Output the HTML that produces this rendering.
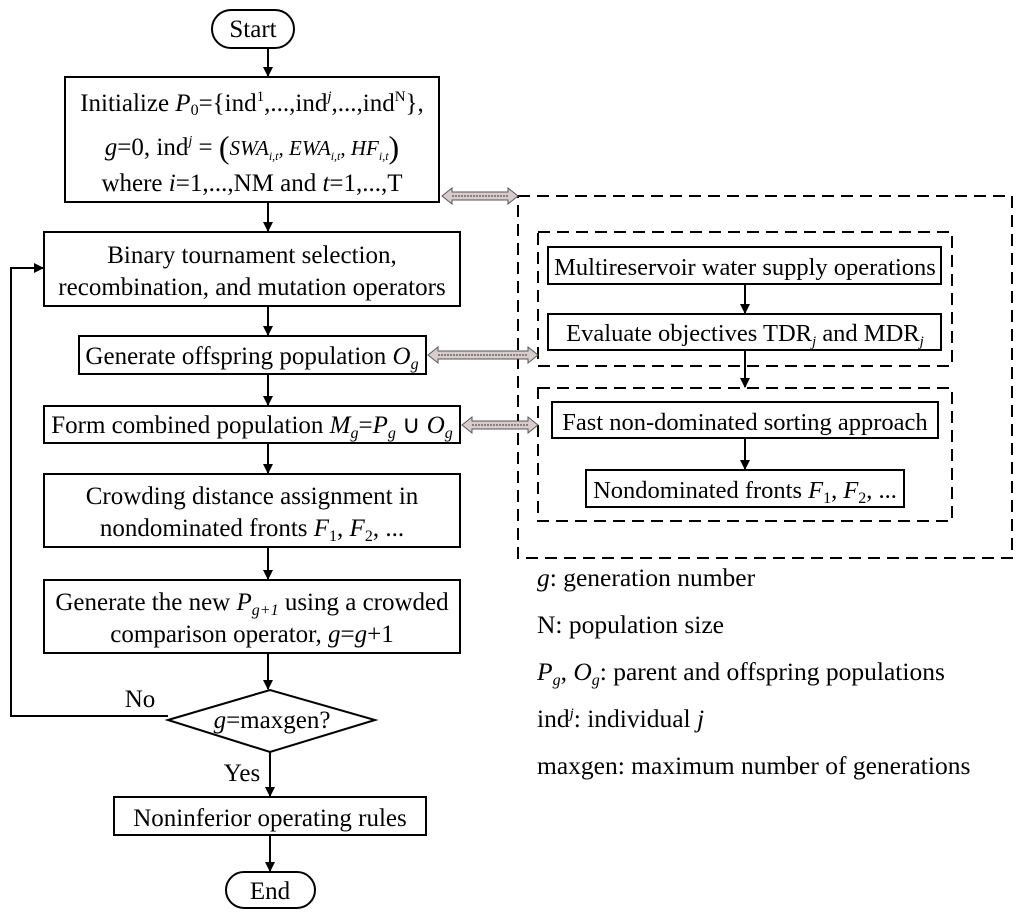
<!DOCTYPE html>
<html><head><meta charset="utf-8"><style>
html,body{margin:0;padding:0;background:#fff}
svg{display:block}
text{font-family:"Liberation Serif",serif;fill:#000}
.t{font-size:25px;text-anchor:middle}
.s{font-size:24.5px;text-anchor:middle}
.l{font-size:25.5px}
</style></head><body>
<svg width="1024" height="916" viewBox="0 0 1024 916" xmlns="http://www.w3.org/2000/svg">
<defs>
<marker id="a" markerWidth="10" markerHeight="10" refX="9" refY="5" orient="auto" markerUnits="userSpaceOnUse">
<path d="M0,0 L10,5 L0,10 z" fill="#000"/></marker>
</defs>
<g stroke="#000" stroke-width="2" fill="none">
<rect x="212" y="10" width="82" height="38" rx="19"/>
<rect x="65" y="77" width="374" height="125"/>
<rect x="44" y="232" width="416" height="74"/>
<rect x="79" y="336" width="347" height="38"/>
<rect x="44" y="406" width="416" height="37"/>
<rect x="44" y="474" width="416" height="73"/>
<rect x="44" y="580" width="416" height="73"/>
<path d="M168,720 L270,690 L375,720 L270,752 Z"/>
<rect x="114" y="797" width="312" height="38"/>
<rect x="226" y="872" width="89" height="36" rx="18"/>
<line x1="268" y1="48" x2="268" y2="76" marker-end="url(#a)"/>
<line x1="268" y1="202" x2="268" y2="231" marker-end="url(#a)"/>
<line x1="268" y1="306" x2="268" y2="335" marker-end="url(#a)"/>
<line x1="268" y1="374" x2="268" y2="405" marker-end="url(#a)"/>
<line x1="268" y1="443" x2="268" y2="473" marker-end="url(#a)"/>
<line x1="268" y1="547" x2="268" y2="579" marker-end="url(#a)"/>
<line x1="268" y1="653" x2="268" y2="689" marker-end="url(#a)"/>
<line x1="270" y1="752" x2="270" y2="796" marker-end="url(#a)"/>
<line x1="270" y1="835" x2="270" y2="871" marker-end="url(#a)"/>
<polyline points="168,716 11,716 11,268 43,268" marker-end="url(#a)"/>
<g stroke-dasharray="12,7">
<rect x="518" y="196" width="494" height="362"/>
<rect x="538" y="232" width="414" height="134"/>
<rect x="538" y="388" width="414" height="133"/>
</g>
<rect x="548" y="247" width="393" height="37"/>
<rect x="548" y="314" width="393" height="36"/>
<rect x="552" y="402" width="386" height="36"/>
<rect x="586" y="470" width="318" height="37"/>
<line x1="745" y1="284" x2="745" y2="313" marker-end="url(#a)"/>
<line x1="745" y1="350" x2="745" y2="387" marker-end="url(#a)"/>
<line x1="745" y1="438" x2="745" y2="469" marker-end="url(#a)"/>
</g>
<g fill="#d8cccc" stroke="#555" stroke-width="1">
<path d="M442,196 L452,188 L452,192 L508,192 L508,188 L518,196 L508,204 L508,200 L452,200 L452,204 Z"/>
<path d="M428,355 L438,347 L438,351 L528,351 L528,347 L538,355 L528,363 L528,359 L438,359 L438,363 Z"/>
<path d="M462,425 L472,417 L472,421 L528,421 L528,417 L538,425 L528,433 L528,429 L472,429 L472,433 Z"/>
</g>
<g stroke="#333" stroke-width="1" stroke-dasharray="2,1">
<line x1="452" y1="196" x2="508" y2="196"/>
<line x1="438" y1="355" x2="528" y2="355"/>
<line x1="472" y1="425" x2="528" y2="425"/>
</g>
<text class="t" x="253" y="37">Start</text>
<text class="t" x="252" y="111">Initialize <tspan font-style="italic">P</tspan><tspan font-size="16" dy="4">0</tspan><tspan dy="-4">={ind</tspan><tspan font-size="15" dy="-10">1</tspan><tspan dy="10">,...,ind</tspan><tspan font-size="15" dy="-10" font-style="italic">j</tspan><tspan dy="10">,...,ind</tspan><tspan font-size="15" dy="-10">N</tspan><tspan dy="10">},</tspan></text>
<text class="t" x="252" y="155"><tspan font-style="italic">g</tspan>=0, ind<tspan font-size="14" dy="-10" font-style="italic">j</tspan><tspan dy="10"> = </tspan><tspan font-size="32" dy="3">(</tspan><tspan font-style="italic" font-size="21" dy="-3">SWA</tspan><tspan font-size="12" font-style="italic" dy="5">i,t</tspan><tspan dy="-5" font-size="21">, </tspan><tspan font-style="italic" font-size="21">EWA</tspan><tspan font-size="12" font-style="italic" dy="5">i,t</tspan><tspan dy="-5" font-size="21">, </tspan><tspan font-style="italic" font-size="21">HF</tspan><tspan font-size="12" font-style="italic" dy="5">i,t</tspan><tspan dy="-2" font-size="32">)</tspan></text>
<text class="t" x="252" y="191">where <tspan font-style="italic">i</tspan>=1,...,NM and <tspan font-style="italic">t</tspan>=1,...,T</text>
<text class="t" x="252" y="263">Binary tournament selection,</text>
<text class="t" x="252" y="295">recombination, and mutation operators</text>
<text class="t" x="252" y="364">Generate offspring population <tspan font-style="italic">O</tspan><tspan font-style="italic" font-size="16" dy="5">g</tspan></text>
<text class="t" x="252" y="433">Form combined population <tspan font-style="italic">M</tspan><tspan font-style="italic" font-size="16" dy="5">g</tspan><tspan dy="-5">=</tspan><tspan font-style="italic">P</tspan><tspan font-style="italic" font-size="16" dy="5">g</tspan><tspan dy="-5"> ∪ </tspan><tspan font-style="italic">O</tspan><tspan font-style="italic" font-size="16" dy="5">g</tspan></text>
<text class="t" x="252" y="504">Crowding distance assignment in</text>
<text class="t" x="252" y="536">nondominated fronts <tspan font-style="italic">F</tspan><tspan font-size="16" dy="5">1</tspan><tspan dy="-5">, </tspan><tspan font-style="italic">F</tspan><tspan font-size="16" dy="5">2</tspan><tspan dy="-5">, ...</tspan></text>
<text class="t" x="252" y="610">Generate the new <tspan font-style="italic">P</tspan><tspan font-style="italic" font-size="16" dy="5">g+1</tspan><tspan dy="-5"> using a crowded</tspan></text>
<text class="t" x="252" y="642">comparison operator, <tspan font-style="italic">g</tspan>=<tspan font-style="italic">g</tspan>+1</text>
<text class="t" x="272" y="728"><tspan font-style="italic">g</tspan>=maxgen?</text>
<text class="t" x="140" y="707">No</text>
<text class="t" x="242" y="781">Yes</text>
<text class="t" x="270" y="826">Noninferior operating rules</text>
<text class="t" x="270" y="899">End</text>
<text class="s" x="745" y="275">Multireservoir water supply operations</text>
<text class="s" x="745" y="341">Evaluate objectives TDR<tspan font-style="italic" font-size="15" dy="5">j</tspan><tspan dy="-5"> and MDR</tspan><tspan font-style="italic" font-size="15" dy="5">j</tspan></text>
<text class="s" x="745" y="430">Fast non-dominated sorting approach</text>
<text class="s" x="745" y="498">Nondominated fronts <tspan font-style="italic">F</tspan><tspan font-size="16" dy="5">1</tspan><tspan dy="-5">, </tspan><tspan font-style="italic">F</tspan><tspan font-size="16" dy="5">2</tspan><tspan dy="-5">, ...</tspan></text>
<text class="l" x="537" y="586"><tspan font-style="italic">g</tspan>: generation number</text>
<text class="l" x="537" y="633">N: population size</text>
<text class="l" x="537" y="680"><tspan font-style="italic">P</tspan><tspan font-style="italic" font-size="16" dy="5">g</tspan><tspan dy="-5">, </tspan><tspan font-style="italic">O</tspan><tspan font-style="italic" font-size="16" dy="5">g</tspan><tspan dy="-5">: parent and offspring populations</tspan></text>
<text class="l" x="537" y="727">ind<tspan font-style="italic" font-size="15" dy="-9">j</tspan><tspan dy="9">: individual </tspan><tspan font-style="italic">j</tspan></text>
<text class="l" x="537" y="774">maxgen: maximum number of generations</text>
</svg>
</body></html>
